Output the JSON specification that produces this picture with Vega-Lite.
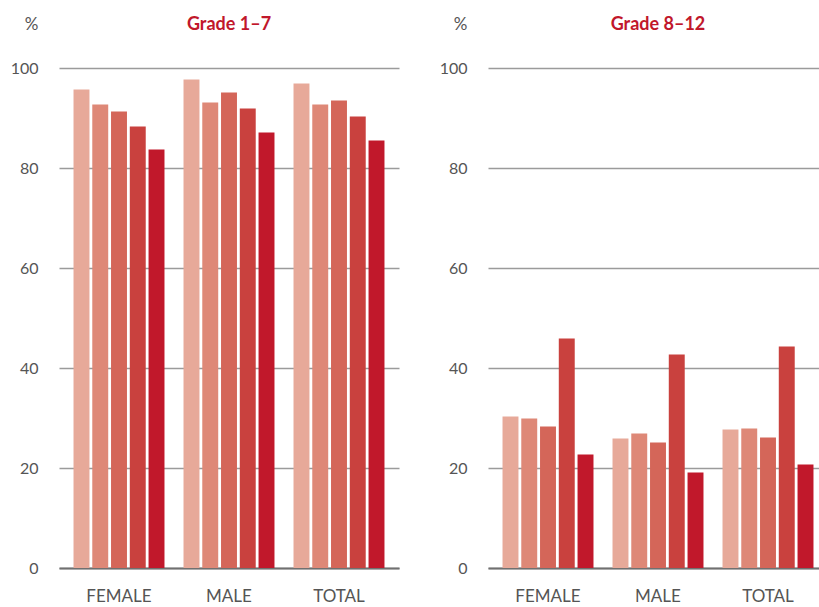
{
  "$schema": "https://vega.github.io/schema/vega-lite/v6.json",
  "padding": {"left": 10, "top": 15, "right": 0, "bottom": 0},
  "spacing": 40,
  "config": {
    "font": "Lato",
    "view": {"stroke": null},
    "title": {"font": "Lato", "fontSize": 18, "fontWeight": "bold", "color": "#c1172b", "anchor": "middle", "offset": -19},
    "axis": {"labelFont": "Lato", "titleFont": "Lato", "labelColor": "#555555", "titleColor": "#555555", "labelFontSize": 16}
  },
  "datasets": {
    "rows": [
      {"grade": "Grade 1–7", "group": "FEMALE", "series": "S1", "value": 95.7},
      {"grade": "Grade 1–7", "group": "FEMALE", "series": "S2", "value": 92.7},
      {"grade": "Grade 1–7", "group": "FEMALE", "series": "S3", "value": 91.3},
      {"grade": "Grade 1–7", "group": "FEMALE", "series": "S4", "value": 88.3},
      {"grade": "Grade 1–7", "group": "FEMALE", "series": "S5", "value": 83.7},
      {"grade": "Grade 1–7", "group": "MALE", "series": "S1", "value": 97.7},
      {"grade": "Grade 1–7", "group": "MALE", "series": "S2", "value": 93.1},
      {"grade": "Grade 1–7", "group": "MALE", "series": "S3", "value": 95.1},
      {"grade": "Grade 1–7", "group": "MALE", "series": "S4", "value": 91.9},
      {"grade": "Grade 1–7", "group": "MALE", "series": "S5", "value": 87.1},
      {"grade": "Grade 1–7", "group": "TOTAL", "series": "S1", "value": 96.9},
      {"grade": "Grade 1–7", "group": "TOTAL", "series": "S2", "value": 92.7},
      {"grade": "Grade 1–7", "group": "TOTAL", "series": "S3", "value": 93.5},
      {"grade": "Grade 1–7", "group": "TOTAL", "series": "S4", "value": 90.3},
      {"grade": "Grade 1–7", "group": "TOTAL", "series": "S5", "value": 85.5},
      {"grade": "Grade 8–12", "group": "FEMALE", "series": "S1", "value": 30.3},
      {"grade": "Grade 8–12", "group": "FEMALE", "series": "S2", "value": 29.9},
      {"grade": "Grade 8–12", "group": "FEMALE", "series": "S3", "value": 28.3},
      {"grade": "Grade 8–12", "group": "FEMALE", "series": "S4", "value": 45.9},
      {"grade": "Grade 8–12", "group": "FEMALE", "series": "S5", "value": 22.7},
      {"grade": "Grade 8–12", "group": "MALE", "series": "S1", "value": 25.9},
      {"grade": "Grade 8–12", "group": "MALE", "series": "S2", "value": 26.9},
      {"grade": "Grade 8–12", "group": "MALE", "series": "S3", "value": 25.1},
      {"grade": "Grade 8–12", "group": "MALE", "series": "S4", "value": 42.7},
      {"grade": "Grade 8–12", "group": "MALE", "series": "S5", "value": 19.1},
      {"grade": "Grade 8–12", "group": "TOTAL", "series": "S1", "value": 27.7},
      {"grade": "Grade 8–12", "group": "TOTAL", "series": "S2", "value": 27.9},
      {"grade": "Grade 8–12", "group": "TOTAL", "series": "S3", "value": 26.1},
      {"grade": "Grade 8–12", "group": "TOTAL", "series": "S4", "value": 44.3},
      {"grade": "Grade 8–12", "group": "TOTAL", "series": "S5", "value": 20.7}
    ]
  },
  "hconcat": [
    {
      "width": 340, "height": 500,
      "title": {"text": "Grade 1–7"},
      "data": {"name": "rows"},
      "transform": [{"filter": "datum.grade === 'Grade 1–7'"}],
      "mark": {"type": "bar"},
      "encoding": {
        "x": {"field": "group", "type": "nominal", "scale": {"paddingInner": 0.173, "paddingOuter": 0.132},
              "axis": {"title": null, "labelAngle": 0, "ticks": false, "labelPadding": 20, "domainColor": "#707070", "domainWidth": 2, "labelFontSize": 17}},
        "xOffset": {"field": "series", "type": "nominal", "scale": {"paddingInner": 0.15, "paddingOuter": 0}},
        "y": {"field": "value", "type": "quantitative", "scale": {"domain": [0, 100]},
              "axis": {"values": [0, 20, 40, 60, 80, 100], "domain": false, "ticks": false, "labelPadding": 21, "gridColor": "#9b9b9b", "gridWidth": 1.5,
                       "title": "%", "titleAngle": 0, "titleAlign": "right", "titleBaseline": "alphabetic", "titleX": -21, "titleY": -39, "titleFontSize": 17, "titleFontWeight": "normal"}},
        "color": {"field": "series", "type": "nominal", "legend": null,
                  "scale": {"domain": ["S1", "S2", "S3", "S4", "S5"], "range": ["#e7a999", "#de8877", "#d46659", "#c9413e", "#c1182b"]}}
      }
    },
    {
      "width": 340, "height": 500,
      "title": {"text": "Grade 8–12"},
      "data": {"name": "rows"},
      "transform": [{"filter": "datum.grade === 'Grade 8–12'"}],
      "mark": {"type": "bar"},
      "encoding": {
        "x": {"field": "group", "type": "nominal", "scale": {"paddingInner": 0.173, "paddingOuter": 0.132},
              "axis": {"title": null, "labelAngle": 0, "ticks": false, "labelPadding": 20, "domainColor": "#707070", "domainWidth": 2, "labelFontSize": 17}},
        "xOffset": {"field": "series", "type": "nominal", "scale": {"paddingInner": 0.15, "paddingOuter": 0}},
        "y": {"field": "value", "type": "quantitative", "scale": {"domain": [0, 100]},
              "axis": {"values": [0, 20, 40, 60, 80, 100], "domain": false, "ticks": false, "labelPadding": 21, "gridColor": "#9b9b9b", "gridWidth": 1.5,
                       "title": "%", "titleAngle": 0, "titleAlign": "right", "titleBaseline": "alphabetic", "titleX": -21, "titleY": -39, "titleFontSize": 17, "titleFontWeight": "normal"}},
        "color": {"field": "series", "type": "nominal", "legend": null,
                  "scale": {"domain": ["S1", "S2", "S3", "S4", "S5"], "range": ["#e7a999", "#de8877", "#d46659", "#c9413e", "#c1182b"]}}
      }
    }
  ]
}
